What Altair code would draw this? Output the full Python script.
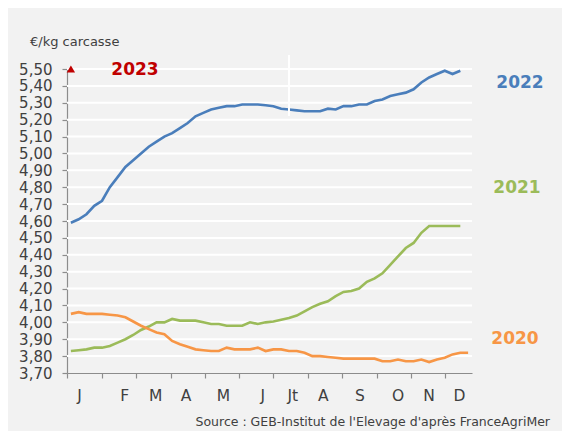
import altair as alt
import pandas as pd

# ---- data ----
price_2022 = [4.59, 4.61, 4.64, 4.69, 4.72, 4.80, 4.86, 4.92, 4.96, 5.00,
              5.04, 5.07, 5.10, 5.12, 5.15, 5.18, 5.22, 5.24, 5.26, 5.27,
              5.28, 5.28, 5.29, 5.29, 5.29, 5.285, 5.28, 5.265, 5.26, 5.255,
              5.25, 5.25, 5.25, 5.265, 5.26, 5.28, 5.28, 5.29, 5.29, 5.31,
              5.32, 5.34, 5.35, 5.36, 5.38, 5.42, 5.45, 5.47, 5.49, 5.47, 5.49]
price_2021 = [3.83, 3.835, 3.84, 3.85, 3.85, 3.86, 3.88, 3.90, 3.925, 3.955,
              3.975, 4.00, 4.00, 4.02, 4.01, 4.01, 4.01, 4.00, 3.99, 3.99,
              3.98, 3.98, 3.98, 4.00, 3.99, 4.00, 4.005, 4.015, 4.025, 4.04,
              4.065, 4.09, 4.11, 4.125, 4.155, 4.18, 4.185, 4.20, 4.24, 4.26,
              4.29, 4.34, 4.39, 4.44, 4.47, 4.53, 4.57, 4.57, 4.57, 4.57, 4.57]
price_2020 = [4.05, 4.06, 4.05, 4.05, 4.05, 4.045, 4.04, 4.03, 4.005, 3.98,
              3.96, 3.94, 3.93, 3.89, 3.87, 3.855, 3.84, 3.835, 3.83, 3.83,
              3.85, 3.84, 3.84, 3.84, 3.85, 3.83, 3.84, 3.84, 3.83, 3.83,
              3.82, 3.80, 3.80, 3.795, 3.79, 3.785, 3.785, 3.785, 3.785, 3.785,
              3.77, 3.77, 3.78, 3.77, 3.77, 3.78, 3.765, 3.78, 3.79, 3.81, 3.82, 3.82]
week_2023 = [1]
price_2023 = [5.50]

month_labels = ["J", "F", "M", "A", "M", "J", "Jt", "A", "S", "O", "N", "D"]
month_pos = [2.1, 7.9, 11.9, 15.8, 20.6, 25.65, 29.5, 33.4, 38.1, 43.0, 47.0, 50.9]
x_ticks = [0.5, 5.0, 9.36, 13.85, 18.2, 22.6, 26.9, 31.45, 35.8, 40.3, 44.7, 49.0]
y_ticks = [3.70, 3.80, 3.90, 4.00, 4.10, 4.20, 4.30, 4.40, 4.50, 4.60,
           4.70, 4.80, 4.90, 5.00, 5.10, 5.20, 5.30, 5.40, 5.50]
current_week = [29]

series = ["2022", "2021", "2020"]
colors = ["#4a7ebb", "#9bbb59", "#f79646"]

rows = []
for name, vals in zip(series, [price_2022, price_2021, price_2020]):
    for i, v in enumerate(vals):
        rows.append({"year": name, "week": i + 1, "price": v})
df = pd.DataFrame(rows)

FONT = "DejaVu Sans"
W, H = 405, 304

xscale = alt.Scale(domain=[0.5, 52.5], nice=False, zero=False)
yscale = alt.Scale(domain=[3.70, 5.50], nice=False, zero=False)

y_axis = alt.Axis(values=y_ticks, title=None, grid=False,
                  domainColor="#8c8c8c", tickColor="#8c8c8c",
                  tickSize=5, domainWidth=1.2, tickWidth=1.2,
                  labelFont=FONT, labelFontSize=15, labelColor="#404040",
                  labelPadding=10, labelOverlap=False, labelBound=False,
                  labelExpr="replace(format(datum.value, '.2f'), '.', ',')")
x_axis = alt.Axis(values=x_ticks, labels=False, grid=False, title=None,
                  domainColor="#8c8c8c", tickColor="#8c8c8c", tickSize=5,
                  domainWidth=1.2, tickWidth=1.2)

grid_df = pd.DataFrame({"price": y_ticks[1:]})
grid = alt.Chart(grid_df).mark_rule(color="white", strokeWidth=2).encode(
    y=alt.Y("price:Q", scale=yscale, axis=y_axis),
    x=alt.value(0), x2=alt.value(W))

lines = alt.Chart(df).mark_line(strokeWidth=2.6).encode(
    x=alt.X("week:Q", scale=xscale, axis=x_axis),
    y=alt.Y("price:Q", scale=yscale, axis=y_axis),
    color=alt.Color("year:N", scale=alt.Scale(domain=series, range=colors), legend=None),
)

marker = alt.Chart(pd.DataFrame({"week": current_week})).mark_rule(
    color="white", strokeWidth=2).encode(
    x=alt.X("week:Q", scale=xscale, axis=x_axis), y=alt.value(-14), y2=alt.value(47))

tri = alt.Chart(pd.DataFrame({"week": week_2023, "price": price_2023})).mark_point(
    shape="triangle-up", filled=True, color="#c00000", size=70, opacity=1).encode(
    x=alt.X("week:Q", scale=xscale, axis=x_axis),
    y=alt.Y("price:Q", scale=yscale, axis=y_axis))

months = alt.Chart(pd.DataFrame({"m": month_labels, "week": month_pos})).mark_text(
    font=FONT, fontSize=15.5, color="#404040", baseline="middle", align="center").encode(
    x=alt.X("week:Q", scale=xscale, axis=x_axis), y=alt.value(H + 23), text="m:N")


def label(txt, x, y, color, size, weight="normal", align="center"):
    return alt.Chart(pd.DataFrame({"t": [txt]})).mark_text(
        font=FONT, fontSize=size, fontWeight=weight, color=color,
        align=align, baseline="middle").encode(
        x=alt.value(x), y=alt.value(y), text="t:N")


labels = [
    label("2023", 68, 1, "#c00000", 17, "bold"),
    label("2022", 453, 14, colors[0], 17, "bold"),
    label("2021", 450, 119, colors[1], 17, "bold"),
    label("2020", 448, 270, colors[2], 17, "bold"),
    label("€/kg carcasse", -37, -27, "#404040", 13, align="left"),
    label("Source : GEB-Institut de l'Elevage d'après FranceAgriMer", 483, 353,
          "#404040", 12.5, align="right"),
]

chart = alt.layer(grid, lines, marker, tri, months, *labels).properties(
    width=W, height=H,
    background="#f2f2f2",
    padding={"left": 59, "top": 61, "right": 90, "bottom": 58},
    autosize=alt.AutoSizeParams(type="none"),
).configure_view(stroke=None)

chart.save("out.html", embed_options={"renderer": "svg", "actions": False})
